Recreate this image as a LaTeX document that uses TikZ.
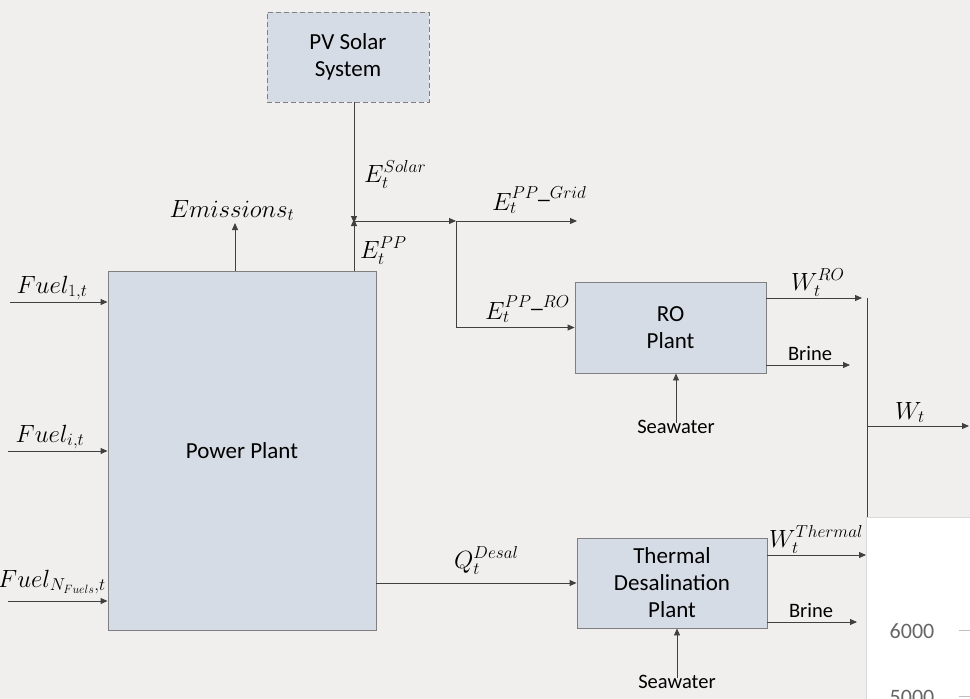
\documentclass[tikz,border=0pt]{standalone}
\usepackage{fontspec}
\setmainfont{Carlito}
\usetikzlibrary{arrows.meta}
\definecolor{bgcol}{HTML}{F1EEEE}
\definecolor{boxfill}{HTML}{D6DCE5}
\definecolor{boxline}{HTML}{7F7F7F}
\definecolor{linecol}{HTML}{404040}
\begin{document}
\begin{tikzpicture}[x=1pt,y=-1pt,
  blk/.style={draw=boxline, fill=boxfill, line width=0.9pt, align=center,
    inner sep=0pt, font=\fontsize{23}{27}\selectfont},
  conn/.style={draw=linecol, line width=0.9pt},
  arr/.style={conn, -{Triangle[length=7pt,width=6pt]}},
  mlab/.style={inner sep=0pt, font=\fontsize{23.5}{27}\selectfont},
  tlab/.style={inner sep=0pt, font=\fontsize{20.5}{24}\selectfont}]
\useasboundingbox (0,0) rectangle (970,699);
\clip (0,0) rectangle (970,699);
\fill[bgcol] (0,0) rectangle (970,699);

% blocks
\node[blk, dash pattern=on 5pt off 3pt, minimum width=162pt, minimum height=90pt] (pv) at (348,57) {PV Solar\\System};
\node[blk, minimum width=268pt, minimum height=359pt] (pp) at (242,450.5) {Power Plant};
\node[blk, minimum width=191pt, minimum height=91pt] (ro) at (670.5,327.5) {RO\\Plant};
\node[blk, minimum width=190pt, minimum height=90pt] (th) at (672,583) {Thermal\\Desalination\\Plant};

% junctions
\coordinate (j) at (354,221);
\coordinate (k) at (456,221);
\coordinate (gridend) at (577,221);
\coordinate (emend) at (235,223);

% solar and power plant electricity
\draw[arr] (pv.south -| j) -- ([yshift=-2pt]j);
\draw[arr] (pp.north -| j) -- ([yshift=2pt]j);
\draw[arr] (j) -- (k);
\draw[arr] (k) -- (gridend);
\draw[arr] (k) |- (ro.west);
\draw[arr] (pp.north -| emend) -- (emend);

\node[mlab, anchor=base west] (lsolar) at (364,182) {$E_t^{Solar}$};
\node[mlab, anchor=base west] (lpp) at (360,258) {$E_t^{PP}$};
\node[mlab, anchor=base west] (lgrid) at (492,210) {$E_t^{PP\_Grid}$};
\node[mlab, anchor=base west] (lpro) at (485,319) {$E_t^{PP\_RO}$};
\node[mlab, anchor=base] (lem) at (232,217) {$Emissions_t$};

% fuels
\coordinate (f1) at (10,302);
\coordinate (fi) at (8,451);
\coordinate (fn) at (8,601);
\draw[arr] (f1) -- (pp.west |- f1);
\draw[arr] (fi) -- (pp.west |- fi);
\draw[arr] (fn) -- (pp.west |- fn);
\node[mlab, anchor=base] (lf1) at (52,293) {$Fuel_{1,t}$};
\node[mlab, anchor=base] (lfi) at (50,442) {$Fuel_{i,t}$};
\node[mlab, anchor=base east] (lfn) at (106,587) {$Fuel_{N_{Fuels},t}$};

% heat to thermal desalination
\draw[arr] (pp.east |- th.west) -- (th.west);
\node[mlab, anchor=base west] (lq) at (454,568) {$Q_t^{Desal}$};

% RO outputs
\coordinate (wro) at (862,298);
\coordinate (bro) at (850,365);
\draw[arr] (ro.east |- wro) -- (wro);
\draw[arr] (ro.east |- bro) -- (bro);
\node[mlab, anchor=base west] (lwro) at (791,290) {$W_t^{RO}$};
\node[tlab, anchor=base] (lbro) at (810,360) {Brine};
\node[tlab, anchor=base] (swro) at (676,433) {Seawater};
\draw[arr] ([yshift=-3pt]swro.north) -- (swro.north |- ro.south);

% Thermal outputs
\coordinate (wth) at (866,555);
\coordinate (bth) at (857,622);
\draw[arr] (th.east |- wth) -- (wth);
\draw[arr] (th.east |- bth) -- (bth);
\node[mlab, anchor=base west] (lwth) at (769,547) {$W_t^{Thermal}$};
\node[tlab, anchor=base] (lbth) at (811,617) {Brine};
\node[tlab, anchor=base] (swth) at (677,688) {Seawater};
\draw[arr] ([yshift=-3pt]swth.north) -- (swth.north |- th.south);

% total water
\coordinate (c1) at (867,298);
\coordinate (c2) at (867,517);
\coordinate (wt0) at (867,426);
\coordinate (wt1) at (969,426);
\draw[conn] (c1) -- (c2);
\draw[arr] (wt0) -- (wt1);
\node[mlab, anchor=base] (lwt) at (910,419) {$W_t$};

% chart fragment
\draw[draw=black!15, line width=1pt, fill=white] (866,517) rectangle (980,710);
\node[inner sep=0pt, anchor=base, text=black!60, font=\fontsize{22}{26}\selectfont] (t6) at (912,638) {6000};
\node[inner sep=0pt, anchor=base, text=black!60, font=\fontsize{22}{26}\selectfont] (t5) at (912,704) {5000};
\draw[black!25, line width=1pt] (959,630) -- (975,630);
\draw[black!25, line width=1pt] (959,696) -- (975,696);
\end{tikzpicture}
\end{document}
